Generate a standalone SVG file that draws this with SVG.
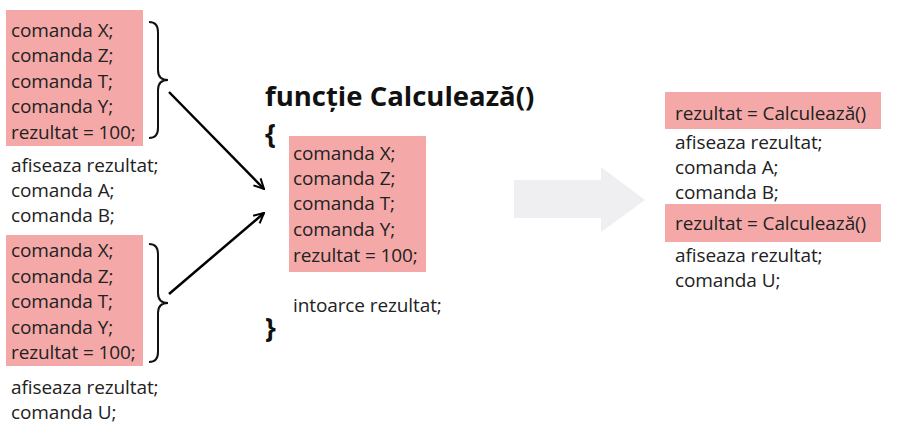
<svg xmlns="http://www.w3.org/2000/svg" width="901" height="440" viewBox="0 0 901 440">
<defs>
<style>
.t{font-family:"Open Sans","Noto Sans",sans-serif;font-size:19px;fill:#222;letter-spacing:-0.1px}
.h{font-family:"Open Sans","Noto Sans",sans-serif;font-size:27.5px;font-weight:bold;fill:#111}
.hl{fill:#f4a9a8}
.br{fill:none;stroke:#111;stroke-width:2}
.ar{fill:none;stroke:#000;stroke-width:2.5}
</style>
<marker id="ah" viewBox="0 0 10 10" refX="9" refY="5" markerWidth="5" markerHeight="5" orient="auto" markerUnits="strokeWidth">
<path d="M1,1 L9,5 L1,9" fill="none" stroke="#000" stroke-width="1.6"/>
</marker>
</defs>
<rect width="901" height="440" fill="#fff"/>
<g id="block-top">
<rect class="hl" x="6" y="10" width="137" height="136"/>
<text class="t" x="11" y="37">comanda X;</text>
<text class="t" x="11" y="62">comanda Z;</text>
<text class="t" x="11" y="88">comanda T;</text>
<text class="t" x="11" y="113">comanda Y;</text>
<text class="t" x="11" y="139">rezultat = 100;</text>
<path class="br" d="M149,22 Q158,22 158,32 L158,70 Q158,80 168,80 Q158,80 158,90 L158,128 Q158,138 149,138"/>
<text class="t" x="11" y="172">afiseaza rezultat;</text>
<text class="t" x="11" y="197">comanda A;</text>
<text class="t" x="11" y="222">comanda B;</text>
</g>
<g id="block-bottom">
<rect class="hl" x="6" y="235" width="137" height="131"/>
<text class="t" x="11" y="257">comanda X;</text>
<text class="t" x="11" y="283">comanda Z;</text>
<text class="t" x="11" y="308">comanda T;</text>
<text class="t" x="11" y="334">comanda Y;</text>
<text class="t" x="11" y="359">rezultat = 100;</text>
<path class="br" d="M149,244 Q158,244 158,254 L158,293 Q158,303 168,303 Q158,303 158,313 L158,352 Q158,362 149,362"/>
<text class="t" x="11" y="394">afiseaza rezultat;</text>
<text class="t" x="11" y="419">comanda U;</text>
</g>
<g id="function">
<text class="h" x="265" y="106">funcție Calculează()</text>
<text class="h" x="265" y="143">{</text>
<rect class="hl" x="289" y="136" width="137" height="136"/>
<text class="t" x="293" y="160">comanda X;</text>
<text class="t" x="293" y="185">comanda Z;</text>
<text class="t" x="293" y="210">comanda T;</text>
<text class="t" x="293" y="236">comanda Y;</text>
<text class="t" x="293" y="262">rezultat = 100;</text>
<text class="t" x="293" y="312">intoarce rezultat;</text>
<text class="h" x="265" y="337">}</text>
</g>
<g id="result">
<rect class="hl" x="665" y="92" width="216" height="37"/>
<text class="t" x="675" y="120">rezultat = Calculează()</text>
<text class="t" x="675" y="149">afiseaza rezultat;</text>
<text class="t" x="675" y="174">comanda A;</text>
<text class="t" x="675" y="199">comanda B;</text>
<rect class="hl" x="665" y="204" width="216" height="38"/>
<text class="t" x="675" y="230">rezultat = Calculează()</text>
<text class="t" x="675" y="262">afiseaza rezultat;</text>
<text class="t" x="675" y="287">comanda U;</text>
</g>
<g id="connectors">
<line class="ar" x1="169" y1="92" x2="264" y2="189" marker-end="url(#ah)"/>
<line class="ar" x1="169" y1="294" x2="264" y2="213" marker-end="url(#ah)"/>
<polygon fill="#efeff1" points="514,180 601,180 601,167 645,200 601,232 601,218 514,218"/>
</g>
</svg>
